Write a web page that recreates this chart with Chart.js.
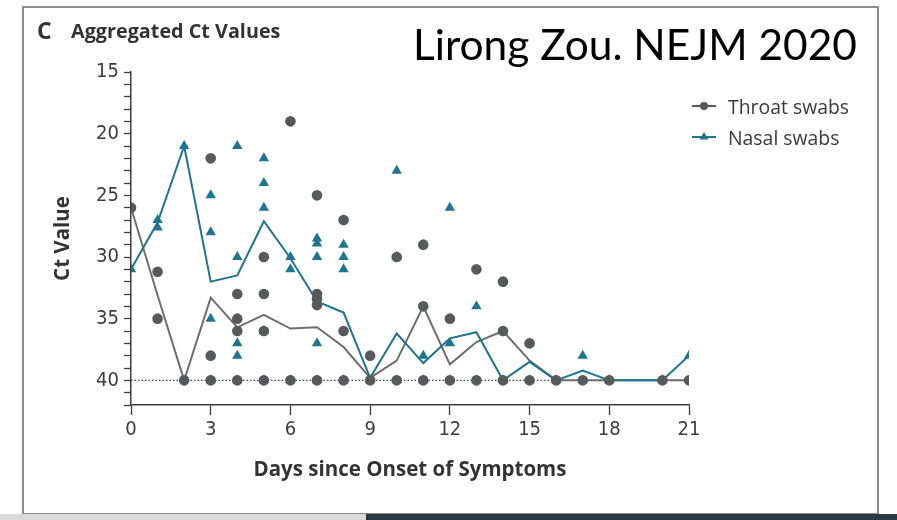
<!DOCTYPE html>
<html>
<head>
<meta charset="utf-8">
<script src="https://cdn.jsdelivr.net/npm/chart.js@4.4.1/dist/chart.umd.min.js"></script>
<style>
  html, body { margin: 0; padding: 0; background: #fff; }
  #wrap { position: relative; width: 897px; height: 520px; overflow: hidden; background: #fff; }
  #frame { position: absolute; left: 22px; top: 6px; width: 853px; height: 505px; border: 2px solid #8c8c8c; box-sizing: content-box; }
  #stripL { position: absolute; left: 0; top: 514px; width: 366px; height: 6px; background: #d9d9d9; }
  #stripD { position: absolute; left: 366px; top: 514px; width: 531px; height: 6px; background: #2c3741; }
  canvas { position: absolute; left: 0; top: 0; }
  .head { position: absolute; font-family: "Open Sans", sans-serif; font-weight: 700; color: #333; font-size: 19.8px; line-height: 1; white-space: nowrap; }
  #credit { position: absolute; left: 413px; top: 18px; font-family: Lato, "Open Sans", sans-serif; font-size: 44px; line-height: 1; color: #000; white-space: nowrap; }
  .leg { position: absolute; font-family: "Open Sans", sans-serif; font-size: 19.4px; line-height: 1; color: #3a3a3a; white-space: nowrap; }
</style>
</head>
<body>
<div id="wrap">
  <div id="frame"></div>
  <div id="stripL"></div>
  <div id="stripD"></div>
  <canvas id="c" width="897" height="520"></canvas>
  <div class="head" style="left:37px; top:19px; font-size:23px;">C</div>
  <div class="head" style="left:71px; top:21px;">Aggregated Ct Values</div>
  <div id="credit">Lirong Zou. NEJM 2020</div>
  <svg style="position:absolute; left:688px; top:96px;" width="34" height="50">
    <line x1="4" y1="10" x2="28" y2="10" stroke="#5a5a5a" stroke-width="2"/>
    <circle cx="16" cy="10" r="4" fill="#5a5a5a"/>
    <line x1="4" y1="41" x2="28" y2="41" stroke="#1f7490" stroke-width="2"/>
    <polygon points="16,36 20.5,43.5 11.5,43.5" fill="#1f7490"/>
  </svg>
  <div class="leg" style="left:728px; top:97px;">Throat swabs</div>
  <div class="leg" style="left:728px; top:128px;">Nasal swabs</div>
</div>
<script>
// ---- data ----
const throatDays = [0, 1, 1, 2, 3, 3, 3, 4, 4, 4, 4, 5, 5, 5, 5, 6, 6, 7, 7, 7, 7, 7, 8, 8, 8, 9, 9, 10, 10, 11, 11, 11, 12, 12, 13, 13, 14, 14, 14, 15, 15, 16, 17, 18, 20, 21];
const throatCt   = [26, 31.2, 35, 40, 22, 38, 40, 33, 35, 36, 40, 30, 33, 36, 40, 19, 40, 25, 33, 33.4, 33.9, 40, 27, 36, 40, 38, 40, 30, 40, 29, 34, 40, 35, 40, 31, 40, 32, 36, 40, 37, 40, 40, 40, 40, 40, 40];

const nasalDays = [0, 1, 1, 2, 3, 3, 3, 3, 4, 4, 4, 4, 4, 5, 5, 5, 5, 5, 6, 6, 6, 7, 7, 7, 7, 7, 8, 8, 8, 8, 9, 10, 10, 10, 11, 11, 12, 12, 12, 13, 13, 14, 15, 15, 16, 17, 17, 18, 20, 21];
const nasalCt   = [31, 27, 27.6, 21, 25, 28, 35, 40, 21, 30, 37, 38, 40, 22, 24, 26, 36, 40, 30, 31, 40, 28.5, 28.9, 30, 37, 40, 29, 30, 31, 40, 40, 23, 30, 40, 38, 40, 26, 37, 40, 34, 40, 40, 37, 40, 40, 38, 40, 40, 40, 38];

const meanDays   = [0, 1, 2, 3, 4, 5, 6, 7, 8, 9, 10, 11, 12, 13, 14, 15, 16, 17, 18, 20, 21];
const throatMean = [26, 33.1, 40, 33.3, 35.7, 34.7, 35.8, 35.7, 37.3, 39.8, 38.4, 34.0, 38.7, 36.9, 36, 38.4, 40, 40, 40, 40, 40];
const nasalMean  = [31, 27.2, 21, 32.0, 31.5, 27.1, 30.1, 33.6, 34.5, 39.8, 36.2, 38.6, 36.6, 36.1, 40, 38.5, 40, 39.2, 40, 40, 38];

const xTicks = [0, 3, 6, 9, 12, 15, 18, 21];
const yLabels = [15, 20, 25, 30, 35, 40];
const limitCt = 40;

const GRAY = '#58595b';
const GRAY_LINE = '#6e6e6e';
const TEAL = '#1f7490';
const AXIS = '#3c3c3c';

// fit the credit line to the width it has in the reference
(function () {
  const el = document.getElementById('credit');
  const ctx = document.createElement('canvas').getContext('2d');
  ctx.font = '44px Lato, "Open Sans", sans-serif';
  const w = ctx.measureText(el.textContent).width;
  const size = 44 * 444 / w;
  el.style.fontSize = size + 'px';
  el.style.top = (61 - 0.887 * size) + 'px';
})();

const pts = (xs, ys) => xs.map((x, i) => ({ x: x, y: ys[i] }));
const tickFont = { family: "'Liberation Sans Narrow', 'DejaVu Sans Condensed', sans-serif", size: 20 };
const titleFont = { family: "'Open Sans', sans-serif", size: 20.5, weight: 'bold' };

new Chart(document.getElementById('c'), {
  type: 'scatter',
  data: {
    datasets: [
      { label: 'Throat swabs', data: pts(throatDays, throatCt), pointStyle: 'circle', pointRadius: 5.3, backgroundColor: GRAY, borderColor: GRAY, borderWidth: 0, order: 1 },
      { label: 'Nasal swabs', data: pts(nasalDays, nasalCt), pointStyle: 'triangle', pointRadius: 6, backgroundColor: TEAL, borderColor: TEAL, borderWidth: 0, order: 2 },
      { label: 'Throat mean', type: 'line', data: pts(meanDays, throatMean), borderColor: GRAY_LINE, borderWidth: 2, pointRadius: 0, fill: false, tension: 0, order: 4 },
      { label: 'Nasal mean', type: 'line', data: pts(meanDays, nasalMean), borderColor: TEAL, borderWidth: 2, pointRadius: 0, fill: false, tension: 0, order: 3 },
      { label: 'Limit', type: 'line', data: [{ x: xTicks[0], y: limitCt }, { x: xTicks[xTicks.length - 1], y: limitCt }], borderColor: '#444', borderWidth: 1.2, borderDash: [1.5, 2], pointRadius: 0, fill: false, order: 5 }
    ]
  },
  options: {
    responsive: false,
    devicePixelRatio: 1,
    animation: false,
    layout: { padding: { left: 47, top: 72, right: 208, bottom: 34 } },
    plugins: { legend: { display: false }, tooltip: { enabled: false } },
    scales: {
      x: {
        type: 'linear', min: 0, max: 21,
        afterBuildTicks: (s) => { s.ticks = xTicks.map(v => ({ value: v })); },
        afterFit: (s) => { s.height = 81; },
        ticks: { font: tickFont, color: AXIS, padding: 3, autoSkip: false, maxRotation: 0 },
        grid: { drawOnChartArea: false, drawTicks: true, tickLength: 10, color: AXIS, tickWidth: 1.3 },
        border: { display: true, color: AXIS, width: 1.5 },
        title: { display: true, text: 'Days since Onset of Symptoms', font: titleFont, color: '#333', padding: { top: 4, bottom: 4 } }
      },
      y: {
        type: 'linear', reverse: true, min: 15, max: 42,
        afterFit: (s) => { s.width = 84; },
        ticks: { stepSize: 1, autoSkip: false, font: tickFont, color: AXIS, padding: 5,
          callback: (v) => yLabels.includes(v) ? String(v) : '' },
        grid: { drawOnChartArea: false, drawTicks: true, tickLength: 7, color: AXIS, tickWidth: 1.3 },
        border: { display: true, color: AXIS, width: 1.5 },
        title: { display: true, text: 'Ct Value', font: titleFont, color: '#333', padding: { top: 4, bottom: 4 } }
      }
    }
  }
});
</script>
</body>
</html>
